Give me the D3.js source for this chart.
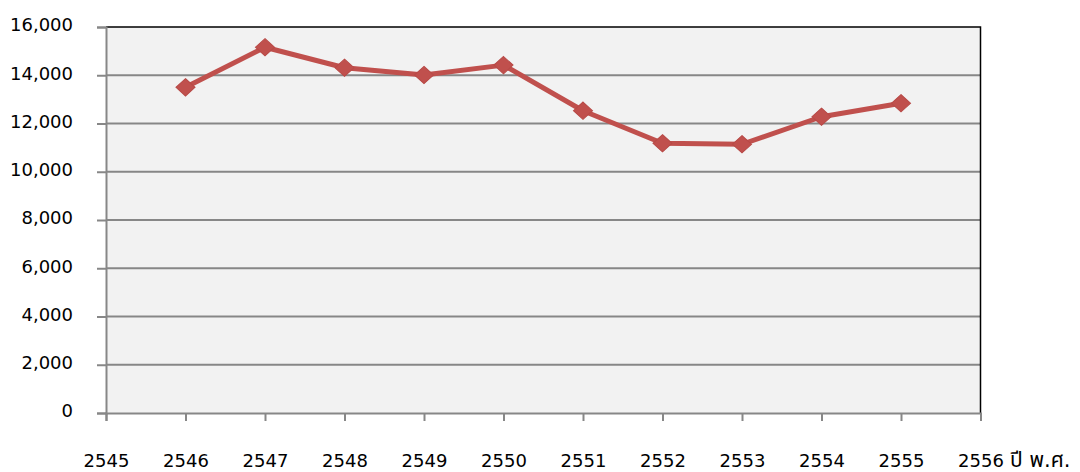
<!DOCTYPE html>
<html>
<head>
<meta charset="utf-8">
<script src="https://d3js.org/d3.v7.min.js"></script>
<style>
	body {margin:0; background:#fff;}
	text {font-family:"DejaVu Sans", "Noto Sans Thai", sans-serif; font-size:18px; fill:#000;}
</style>
</head>
<body>
<div id="chart"></div>
<script>
var years = [2546, 2547, 2548, 2549, 2550, 2551, 2552, 2553, 2554, 2555];
var values = [13500, 15160, 14310, 14010, 14420, 12530, 11180, 11140, 12280, 12840];
var xTicks = [2545, 2546, 2547, 2548, 2549, 2550, 2551, 2552, 2553, 2554, 2555, 2556];
var yTicks = [0, 2000, 4000, 6000, 8000, 10000, 12000, 14000, 16000];
var xTitle = "ปี พ.ศ.";

var W = 1080, H = 472;
var pLeft = 106, pRight = 980.5, pTop = 27, pBottom = 413;

var svg = d3.select("#chart").append("svg")
	.attr("width", W)
	.attr("height", H);

var x = d3.scaleLinear().domain([2545, 2556]).range([pLeft, pRight]);
var y = d3.scaleLinear().domain([0, 16000]).range([pBottom, pTop]);

// plot background
svg.append("rect")
	.attr("x", pLeft).attr("y", pTop)
	.attr("width", pRight - pLeft).attr("height", pBottom - pTop)
	.attr("fill", "#f2f2f2");

// grid lines
svg.selectAll(".grid").data(yTicks.slice(1, -1)).enter()
	.append("line")
	.attr("x1", pLeft).attr("x2", pRight)
	.attr("y1", function(d) { return y(d); })
	.attr("y2", function(d) { return y(d); })
	.attr("stroke", "#878787")
	.attr("stroke-width", 2);

// top and right border
svg.append("path")
	.attr("d", "M" + pLeft + "," + pTop + "H" + pRight + "V" + pBottom)
	.attr("fill", "none")
	.attr("stroke", "#000")
	.attr("stroke-width", 1.5);

// y axis
var yAxis = svg.append("g")
	.attr("transform", "translate(" + pLeft + ",0)")
	.call(d3.axisLeft(y).tickValues(yTicks).tickSize(9).tickPadding(24)
		.tickFormat(d3.format(",")));
yAxis.select(".domain").attr("stroke", "#878787").attr("stroke-width", 2);
yAxis.selectAll(".tick line").attr("stroke", "#878787").attr("stroke-width", 2);
yAxis.selectAll("text").attr("font-family", null).attr("font-size", null).attr("dy", "0.22em");

// x axis
var xAxis = svg.append("g")
	.attr("transform", "translate(0," + pBottom + ")")
	.call(d3.axisBottom(x).tickValues(xTicks).tickSize(8).tickPadding(33)
		.tickFormat(d3.format("d")));
xAxis.select(".domain").attr("stroke", "#878787").attr("stroke-width", 2);
xAxis.selectAll(".tick line").attr("stroke", "#878787").attr("stroke-width", 2);
xAxis.selectAll("text").attr("font-family", null).attr("font-size", null);

svg.append("text")
	.attr("x", 1010)
	.attr("y", 467)
	.style("font-size", "21px")
	.text(xTitle);

// line
var line = d3.line()
	.x(function(d, i) { return x(years[i]); })
	.y(function(d) { return y(d); });

svg.append("path")
	.datum(values)
	.attr("d", line)
	.attr("fill", "none")
	.attr("stroke", "#c0504d")
	.attr("stroke-width", 5)
	.attr("stroke-linejoin", "round");

svg.selectAll(".marker").data(values).enter()
	.append("path")
	.attr("d", d3.symbol().type(d3.symbolDiamond2).size(190))
	.attr("transform", function(d, i) { return "translate(" + x(years[i]) + "," + y(d) + ") scale(1.1,1)"; })
	.attr("fill", "#c0504d")
	.attr("stroke", "#b84a47")
	.attr("stroke-width", 1);
</script>
</body>
</html>
